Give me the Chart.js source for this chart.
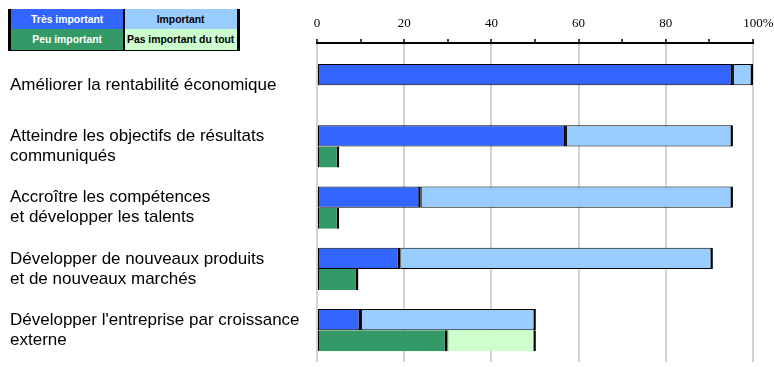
<!DOCTYPE html>
<html>
<head>
<meta charset="utf-8">
<script src="https://cdn.jsdelivr.net/npm/chart.js@4/dist/chart.umd.min.js"></script>
<style>
  html, body { margin: 0; padding: 0; background: #fff; }
  #wrap { position: relative; width: 774px; height: 367px; }
  #legend { position: absolute; left: 8px; top: 9px; width: 232px; height: 42px; font-family: "Liberation Sans", Arial, sans-serif; font-weight: bold; font-size: 10.4px; }
  #legend .cell { position: absolute; display: flex; align-items: center; justify-content: center; box-sizing: border-box; white-space: nowrap; }
  #legend .line { position: absolute; background: #000; }
</style>
</head>
<body>
<div id="wrap">
  <canvas id="c" width="774" height="367"></canvas>
  <div id="legend"></div>
</div>
<script>
// ---- data ----
const categories = [
  "Améliorer la rentabilité économique",
  ["Atteindre les objectifs de résultats", "communiqués"],
  ["Accroître les compétences", "et développer les talents"],
  ["Développer de nouveaux produits", "et de nouveaux marchés"],
  ["Développer l'entreprise par croissance", "externe"]
];
const seriesNames = ["Très important", "Important", "Peu important", "Pas important du tout"];
const tresImportant = [95.4, 57.1, 23.8, 19.1, 10.1];
const important = [4.6, 38.3, 71.6, 71.7, 40.1];
const peuImportant = [null, 5.1, 5.1, 9.5, 29.9];
const pasImportant = [null, null, null, null, 20.3];
const xTickLabels = ["0", "20", "40", "60", "80", "100%"];

const colors = ["#3366FF", "#99CCFF", "#339966", "#CCFFCC"];
const textColors = ["#FFFFFF", "#000000", "#FFFFFF", "#000000"];

// ---- legend (HTML table-like box) ----
(function buildLegend() {
  const lg = document.getElementById('legend');
  const colX = [0, 115.3], colW = [115.3, 116.7], rowY = [0, 20.3], rowH = [20.3, 21.4];
  seriesNames.forEach((name, i) => {
    const r = Math.floor(i / 2), c = i % 2;
    const d = document.createElement('div');
    d.className = 'cell';
    d.style.left = colX[c] + 'px'; d.style.top = rowY[r] + 'px';
    d.style.width = colW[c] + 'px'; d.style.height = rowH[r] + 'px';
    d.style.background = colors[i]; d.style.color = textColors[i];
    d.style.paddingLeft = c === 0 ? '3px' : '0px';
    d.style.paddingRight = c === 0 ? '0px' : '2px';
    d.textContent = name;
    lg.appendChild(d);
  });
  [[0, 0, 2.7, 42], [114.7, 0, 2.3, 42], [229.3, 0, 2.7, 42], [0, 41, 232, 1]].forEach(([l, t, w, h]) => {
    const d = document.createElement('div');
    d.className = 'line';
    d.style.left = l + 'px'; d.style.top = t + 'px'; d.style.width = w + 'px'; d.style.height = h + 'px';
    lg.appendChild(d);
  });
})();

const toPts = arr => arr.map((v, i) => ({ x: v, y: i }));
const topBorder = { top: 1, bottom: 1, left: 1, right: 2.5 };
const botBorder = { top: 0, bottom: 0, left: 1, right: 2.5 };
const serif = '"Liberation Serif", "Times New Roman", serif';

// Draws x tick labels; "100%" is placed with its number centred on the tick like the others.
const xLabelPlugin = {
  id: 'xLabels',
  afterDraw(chart) {
    const xs = chart.scales.x;
    const ctx = chart.ctx;
    ctx.save();
    ctx.font = '13px ' + serif;
    ctx.fillStyle = '#000';
    ctx.textBaseline = 'middle';
    const y = xs.bottom - 19;
    xTickLabels.forEach((lab, i) => {
      const px = xs.getPixelForValue(i * 20);
      const num = lab.replace('%', '');
      const w = ctx.measureText(num).width;
      ctx.textAlign = 'left';
      ctx.fillText(lab, px - w / 2, y);
    });
    ctx.restore();
  }
};

const chart = new Chart(document.getElementById('c'), {
  type: 'bar',
  data: {
    datasets: [
      { label: seriesNames[0], data: toPts(tresImportant), stack: 'a', backgroundColor: colors[0], borderColor: '#000', borderWidth: topBorder, borderSkipped: false },
      { label: seriesNames[1], data: toPts(important), stack: 'a', backgroundColor: colors[1], borderColor: '#000', borderWidth: topBorder, borderSkipped: false },
      { label: seriesNames[2], data: toPts(peuImportant), stack: 'b', backgroundColor: colors[2], borderColor: '#000', borderWidth: botBorder, borderSkipped: false },
      { label: seriesNames[3], data: toPts(pasImportant), stack: 'b', backgroundColor: colors[3], borderColor: '#000', borderWidth: botBorder, borderSkipped: false }
    ]
  },
  options: {
    indexAxis: 'y',
    responsive: false,
    animation: false,
    devicePixelRatio: 1,
    categoryPercentage: 0.69,
    barPercentage: 1,
    layout: { padding: { left: 10, top: 0, right: 21, bottom: 5 } },
    plugins: { legend: { display: false }, tooltip: { enabled: false } },
    scales: {
      x: {
        position: 'top',
        stacked: true,
        min: 0, max: 100,
        ticks: { display: false },
        afterBuildTicks: s => { const t = []; for (let v = 0; v <= 100; v += 10) t.push({ value: v }); s.ticks = t; },
        afterFit: s => { s.height = 43; },
        grid: {
          color: c => (c.tick && c.tick.value % 20 === 0) ? '#d3d3d3' : 'rgba(0,0,0,0)',
          lineWidth: 2,
          tickColor: '#000',
          tickWidth: 1.5,
          tickLength: 4
        },
        border: { display: true, color: '#000', width: 2 }
      },
      y: {
        type: 'linear',
        reverse: true,
        offset: false,
        min: -0.69, max: 4.52,
        stacked: true,
        afterBuildTicks: s => { s.ticks = categories.map((_, i) => ({ value: i })); },
        afterFit: s => { s.width = 307; s.paddingTop = 0; s.paddingBottom = 0; },
        ticks: {
          crossAlign: 'far',
          color: '#000',
          font: { family: '"Liberation Sans", Arial, sans-serif', size: 17, lineHeight: 1.18 },
          callback: v => categories[v]
        },
        grid: { display: false },
        border: { display: false }
      }
    }
  },
  plugins: [xLabelPlugin]
});
</script>
</body>
</html>
